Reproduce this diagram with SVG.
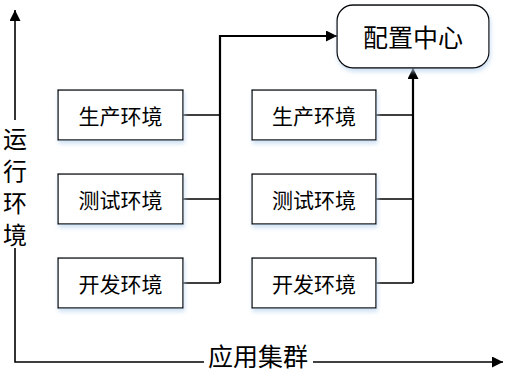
<svg xmlns="http://www.w3.org/2000/svg" width="506" height="373" viewBox="0 0 506 373">
<defs>
<filter id="sh" x="-10%" y="-10%" width="130%" height="140%">
<feDropShadow dx="1" dy="3" stdDeviation="2" flood-color="#b9d3ee" flood-opacity="0.7"/>
</filter>
<marker id="ah" viewBox="0 0 10 10" refX="10" refY="5" markerWidth="11" markerHeight="11" markerUnits="userSpaceOnUse" orient="auto">
<path d="M0,0 L10,5 L0,10 Z" fill="#000"/>
</marker>
</defs>
<style>
.box{fill:#fff;stroke:#000;stroke-width:1.3;filter:url(#sh)}
.t{font-family:"Microsoft YaHei","Noto Sans CJK SC",sans-serif;font-size:21px;fill:#000;text-anchor:middle;dominant-baseline:central}
.ax{font-family:"Microsoft YaHei","Noto Sans CJK SC",sans-serif;font-size:24px;fill:#000;text-anchor:middle;dominant-baseline:central}
.stub{stroke:#000;stroke-width:1.6;fill:none}
.main{stroke:#000;stroke-width:2.2;fill:none}
.axl{stroke:#000;stroke-width:1.6;fill:none}
</style>
<g id="connectors">
<path class="stub" d="M183,115 H220 M183,199 H220 M183,283 H220"/>
<path class="main" d="M220,283 V36 H337" marker-end="url(#ah)"/>
<path class="stub" d="M376,115 H413 M376,199 H413 M376,283 H413"/>
<path class="main" d="M413,283 V68" marker-end="url(#ah)"/>
</g>
<g id="axes">
<path class="axl" d="M15,120 V10" marker-end="url(#ah)"/>
<path class="axl" d="M15,248 V362 H204"/>
<path class="axl" d="M313,362 H503" marker-end="url(#ah)"/>
<text class="ax" x="15" y="137">运</text>
<text class="ax" x="15" y="169">行</text>
<text class="ax" x="15" y="201">环</text>
<text class="ax" x="15" y="233">境</text>
<text class="ax" x="258" y="355" style="font-size:25px">应用集群</text>
</g>
<g id="config">
<rect class="box" x="337" y="5" width="152" height="63" rx="16"/>
<text class="t" x="413" y="36" style="font-size:25px">配置中心</text>
</g>
<g id="prod-left"><rect class="box" x="58" y="90" width="125" height="50"/><text class="t" x="120.5" y="115">生产环境</text></g>
<g id="test-left"><rect class="box" x="58" y="174" width="125" height="50"/><text class="t" x="120.5" y="199">测试环境</text></g>
<g id="dev-left"><rect class="box" x="58" y="258" width="125" height="50"/><text class="t" x="120.5" y="283">开发环境</text></g>
<g id="prod-right"><rect class="box" x="252" y="90" width="124" height="50"/><text class="t" x="314" y="115">生产环境</text></g>
<g id="test-right"><rect class="box" x="252" y="174" width="124" height="50"/><text class="t" x="314" y="199">测试环境</text></g>
<g id="dev-right"><rect class="box" x="252" y="258" width="124" height="50"/><text class="t" x="314" y="283">开发环境</text></g>
</svg>
